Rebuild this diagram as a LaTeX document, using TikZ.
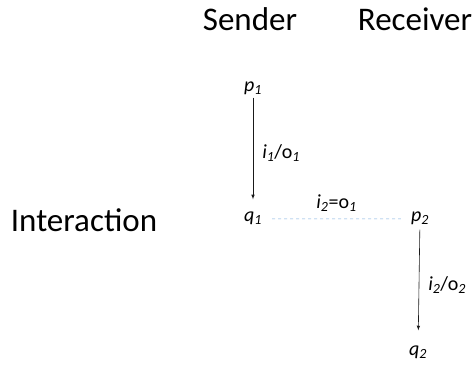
\documentclass[tikz,border=0pt]{standalone}
\usepackage{fontspec}
\setmainfont{Carlito}
\usetikzlibrary{arrows,positioning}
\newcommand{\stateLbl}[2]{\textit{#1}\textsubscript{\textit{#2}}}
\definecolor{linkBlue}{RGB}{120,170,220}
\tikzset{
    head/.style = {font=\fontsize{33}{35}\selectfont},
    state/.style = {font=\fontsize{20}{22}\selectfont, inner sep=1pt},
    lbl/.style = {font=\fontsize{20}{22}\selectfont, inner sep=1pt, text=black},
    trans/.style = {-latex, semithick, black!90},
    link/.style = {dashed, linkBlue, semithick}
}
\begin{document}
\begin{tikzpicture}[x=1pt,y=-1pt]
            \useasboundingbox (0,0) rectangle (472,366);

            \node[head] (Sender) at (250,19) {Sender};
            \node[head] (Receiver) at (415,19) {Receiver};
            \node[head] (Interaction) at (84,220) {Interaction};

            \node[state] (P1) at (253,88) {\stateLbl{p}{1}};
            \node[state] (Q1) at (253,218) {\stateLbl{q}{1}};
            \node[state] (P2) at (420,218) {\stateLbl{p}{2}};
            \node[state] (Q2) at (418,352) {\stateLbl{q}{2}};

            \draw[trans, shorten <=2pt, shorten >=11pt] (P1) -- (Q1) node[lbl, midway, right=8pt] {\stateLbl{i}{1}/o\textsubscript{\textit{1}}};
            \draw[trans, shorten <=4pt, shorten >=14pt] (P2) -- (Q2) node[lbl, midway, right=8pt] {\stateLbl{i}{2}/o\textsubscript{\textit{2}}};
            \draw[link, shorten <=9pt, shorten >=9pt] (Q1.mid east) -- (P2.mid west) node[lbl, midway, above=6pt] {\stateLbl{i}{2}=o\textsubscript{\textit{1}}};

        \end{tikzpicture}
\end{document}
